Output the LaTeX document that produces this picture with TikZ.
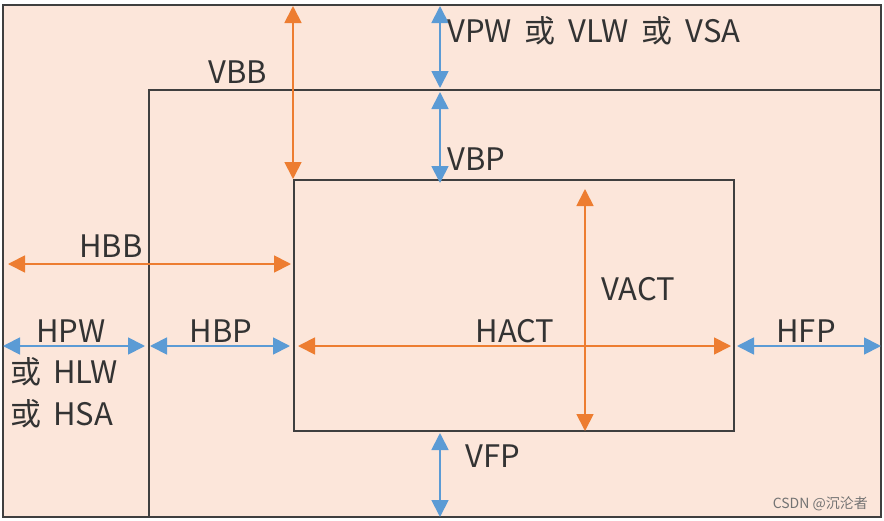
\documentclass[tikz,border=0pt]{standalone}
\usepackage{fontspec}
\setmainfont{Noto Sans CJK SC}
\usetikzlibrary{arrows.meta}
\definecolor{bg}{HTML}{FCE6DA}
\definecolor{org}{HTML}{ED7D31}
\definecolor{blu}{HTML}{5B9BD5}
\definecolor{frame}{HTML}{3F3F3F}
\definecolor{txt}{HTML}{333333}
\begin{document}
\begin{tikzpicture}[x=1pt,y=-1pt,
  frm/.style={draw=frame,line width=1.8pt},
  oarr/.style={draw=org,line width=1.8pt,{Triangle[length=17pt,width=17pt]}-{Triangle[length=17pt,width=17pt]}},
  barr/.style={draw=blu,line width=1.8pt,{Triangle[length=17pt,width=17pt]}-{Triangle[length=17pt,width=17pt]}},
  lbl/.style={font=\fontsize{31}{33}\selectfont,text=txt,inner sep=0pt}]
\useasboundingbox (0,0) rectangle (884,520);
% frames
\coordinate (o1) at (3,5);
\coordinate (o2) at (881,517);
\draw[frm,fill=bg] (o1) rectangle (o2);
\coordinate (m1) at (881,90);
\coordinate (m2) at (149,90);
\coordinate (m3) at (149,517);
\draw[frm] (m1) -- (m2) -- (m3);
\coordinate (i1) at (294,180);
\coordinate (i2) at (734,431);
\draw[frm] (i1) rectangle (i2);
% arrow end points
\coordinate (vbbT) at (293,6);
\coordinate (vbbB) at (293,179);
\coordinate (vpwT) at (440,6);
\coordinate (vpwB) at (440,88);
\coordinate (vbpT) at (440,92);
\coordinate (vbpB) at (440,183);
\coordinate (vfpT) at (440,433);
\coordinate (vfpB) at (440,517);
\coordinate (vactT) at (585,189);
\coordinate (vactB) at (585,431);
\coordinate (hactL) at (298,346);
\coordinate (hactR) at (731,346);
\coordinate (hbbL) at (8,264);
\coordinate (hbbR) at (291,264);
\coordinate (hpwL) at (3,346);
\coordinate (hpwR) at (145,346);
\coordinate (hbpL) at (150,346);
\coordinate (hbpR) at (290,346);
\coordinate (hfpL) at (737,346);
\coordinate (hfpR) at (881,346);
% arrows
\draw[oarr] (vbbT) -- (vbbB);
\draw[barr] (vpwT) -- (vpwB);
\draw[barr] (vbpT) -- (vbpB);
\draw[barr] (vfpT) -- (vfpB);
\draw[oarr] (vactT) -- (vactB);
\draw[oarr] (hactL) -- (hactR);
\draw[oarr] (hbbL) -- (hbbR);
\draw[barr] (hpwL) -- (hpwR);
\draw[barr] (hbpL) -- (hbpR);
\draw[barr] (hfpL) -- (hfpR);
% labels
\node[lbl,anchor=base] (tVBB) at (238,83) {VBB};
\node[lbl,anchor=base west] (tVPW) at (447,42) {VPW\hspace{13pt}或\hspace{13pt}VLW\hspace{13pt}或\hspace{13pt}VSA};
\node[lbl,anchor=base west] (tVBP) at (447,170) {VBP};
\node[lbl,anchor=base] (tHBB) at (111,257) {HBB};
\node[lbl,anchor=base] (tHPW) at (71,342) {HPW};
\node[lbl,anchor=base west] (tHLW) at (10,383) {或\hspace{12pt}HLW};
\node[lbl,anchor=base west] (tHSA) at (10,425) {或\hspace{12pt}HSA};
\node[lbl,anchor=base] (tHBP) at (221,342) {HBP};
\node[lbl,anchor=base] (tHACT) at (515,342) {HACT};
\node[lbl,anchor=base] (tVACT) at (638,300) {VACT};
\node[lbl,anchor=base] (tHFP) at (806,342) {HFP};
\node[lbl,anchor=base] (tVFP) at (493,467) {VFP};
\node[font=\fontsize{14}{15}\selectfont,text=black!55,inner sep=0pt,anchor=base east] (tCSDN) at (868,508) {CSDN @沉沦者};
\end{tikzpicture}
\end{document}
